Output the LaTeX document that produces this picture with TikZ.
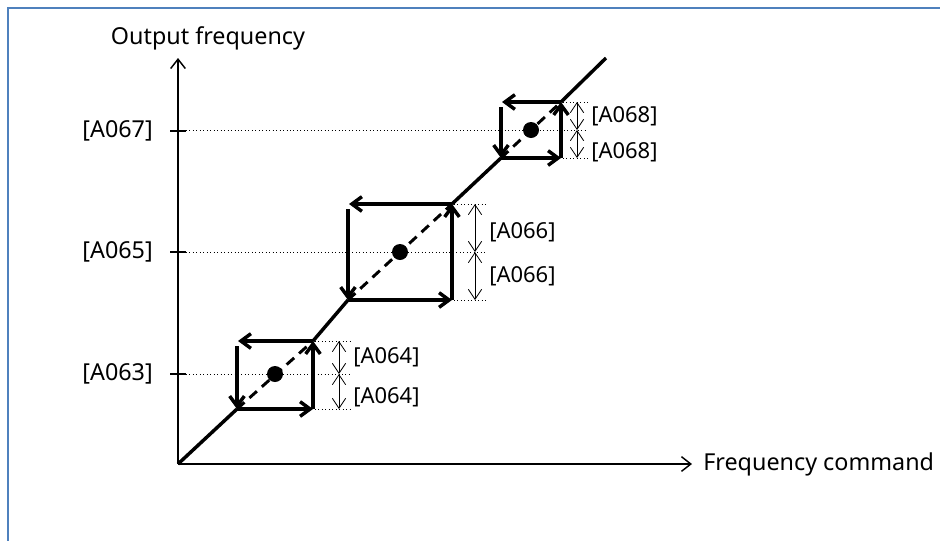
\documentclass[tikz,border=0pt]{standalone}
\usepackage{fontspec}
\setmainfont{Noto Sans}
\usetikzlibrary{arrows.meta}
\definecolor{frameblue}{RGB}{79,129,189}
\begin{document}
\begin{tikzpicture}[x=0.75pt,y=-0.75pt,
  axisline/.style={line width=1.1pt,-{Straight Barb[length=7pt,width=11pt,line width=1.1pt]}},
  stairline/.style={line width=2.6pt},
  steparrow/.style={line width=2.6pt,-{Straight Barb[length=7.5pt,width=11pt]}},
  diagdash/.style={line width=2.2pt,dash pattern=on 7.5pt off 5pt},
  dimarrow/.style={line width=0.6pt,{Straight Barb[length=7.5pt,width=10pt]}-{Straight Barb[length=7.5pt,width=10pt]}},
  guide/.style={line width=0.6pt,dotted},
  tickline/.style={line width=1.6pt},
  bigtxt/.style={font=\fontsize{17.5}{20}\selectfont,inner sep=0pt},
  smalltxt/.style={font=\fontsize{16.5}{19}\selectfont,inner sep=0pt,anchor=west},
  ctrdot/.style={circle,fill=black,inner sep=0pt,minimum size=12pt}
]
\useasboundingbox (0,0) rectangle (940,540);
\draw[frameblue,line width=1.8pt] (8,545) -- (8,8) -- (945,8);

% axes
\coordinate (O) at (178,464);
\coordinate (Ytop) at (178,58);
\coordinate (Xend) at (692,464);
\draw[axisline] (O) -- (Ytop);
\draw[axisline] (O) -- (Xend);
\node[bigtxt] (ylab) at (208,38) {Output frequency};
\node[bigtxt,anchor=west] (xlab) at (703,464) {Frequency command};

% y labels and ticks
\node[bigtxt,anchor=east] (l67) at (153,131) {[A067]};
\node[bigtxt,anchor=east] (l65) at (153,252) {[A065]};
\node[bigtxt,anchor=east] (l63) at (153,374) {[A063]};
\draw[tickline] (170,131) -- (186,131);
\draw[tickline] (170,252) -- (186,252);
\draw[tickline] (170,374) -- (186,374);

% staircase
\coordinate (b1) at (237,409); \coordinate (t1) at (313,341);
\coordinate (b2) at (348,300); \coordinate (t2) at (452,204);
\coordinate (b3) at (501,158); \coordinate (t3) at (561,102);
\coordinate (E) at (606,58);
\draw[stairline] (O) -- (b1);
\draw[stairline] (t1) -- (b2);
\draw[stairline] (t2) -- (b3);
\draw[stairline] (t3) -- (E);

% boxes: left,right,top,bottom,center y,dim x,label,upper label y,lower label y
\foreach \l/\r/\t/\b/\c/\d/\lab/\n/\uy/\ly in {237/313/341/409/374/339/A064/1/357/397, 348/452/204/300/252/475/A066/2/232/276, 501/561/102/158/130/577/A068/3/116/152}{
  \draw[diagdash] (\l,\b) -- (\r,\t);
  \draw[steparrow] (\l,\t+5) -- (\l,\b);
  \draw[steparrow] (\l,\b) -- (\r,\b);
  \draw[steparrow] (\r,\b) -- (\r,\t);
  \draw[steparrow] (\r,\t) -- (\l+1,\t);
  \node[ctrdot] (dot\n) at ({(\l+\r)/2},\c) {};
  \draw[guide] (\r+2,\t) -- (\d+11,\t);
  \draw[guide] (\r+2,\b) -- (\d+11,\b);
  \draw[guide] (186,\c) -- (\d+11,\c);
  \coordinate (dt\n) at (\d,\t);
  \coordinate (dc\n) at (\d,\c);
  \coordinate (db\n) at (\d,\b);
  \draw[dimarrow] (dc\n) -- (dt\n);
  \draw[dimarrow] (dc\n) -- (db\n);
  \node[smalltxt] (ua\n) at (\d+14,\uy) {[\lab]};
  \node[smalltxt] (la\n) at (\d+14,\ly) {[\lab]};
}
\end{tikzpicture}
\end{document}
